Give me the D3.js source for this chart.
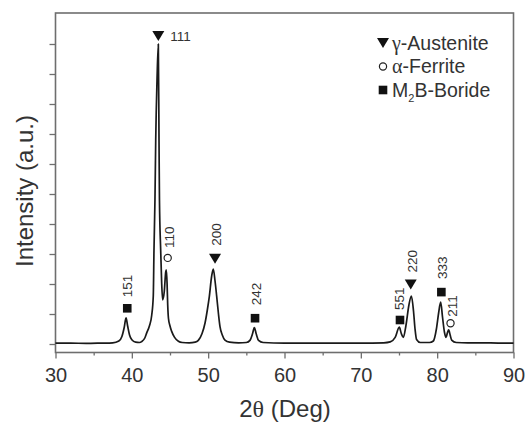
<!DOCTYPE html>
<html>
<head>
<meta charset="utf-8">
<script src="https://cdn.jsdelivr.net/npm/d3@7"></script>
<style>
  html, body { margin: 0; padding: 0; background: #fff; }
  svg { display: block; }
  text { font-family: "Liberation Sans", Arial, sans-serif; fill: #333; }
</style>
</head>
<body>
<svg id="chart" width="525" height="424"></svg>
<script>
// ---- data ----
const twoTheta = [30, 32, 34, 36, 37.5, 38.3, 38.7, 39.0, 39.24, 39.45, 39.7, 40.0, 40.5, 41.0, 41.29, 41.7, 41.95,
  42.3, 42.6, 42.81, 42.9, 43.03, 43.13, 43.3, 43.47, 43.56, 43.62, 43.78, 43.91, 44.04, 44.25, 44.44, 44.52, 44.62,
  44.7, 44.8, 45.0, 45.22, 45.6, 46.1, 46.6, 47.5, 48.3, 48.71, 49.2, 49.59, 49.9, 50.15, 50.45, 50.67, 50.9, 51.12,
  51.35, 51.55, 51.85, 52.2, 52.8, 54.0, 55.0, 55.5, 55.8, 56.05, 56.3, 56.6, 57.2, 60, 65, 70, 73.0, 73.85, 74.5,
  75.04, 75.3, 75.57, 75.9, 76.3, 76.62, 76.9, 77.1, 77.3, 77.8, 79.0, 79.5, 79.9, 80.2, 80.46, 80.7, 80.95, 81.16,
  81.35, 81.51, 81.7, 81.9, 82.5, 84, 86, 88, 90];
const intensity = [0.03, 0.03, 0.02, 0.03, 0.04, 0.1, 0.25, 0.55, 0.87, 0.6, 0.3, 0.14, 0.06, 0.05, 0.08, 0.2, 0.37,
  0.6, 0.95, 1.6, 3.1, 4.8, 6.8, 8.8, 10.0, 6.8, 4.8, 3.13, 2.03, 1.47, 1.75, 2.4, 2.47, 2.0,
  1.3, 0.85, 0.6, 0.42, 0.22, 0.09, 0.05, 0.04, 0.06, 0.12, 0.35, 0.7, 1.15, 1.58, 2.25, 2.5, 2.1, 1.58,
  1.0, 0.58, 0.3, 0.13, 0.06, 0.04, 0.05, 0.13, 0.33, 0.55, 0.33, 0.12, 0.05, 0.03, 0.03, 0.03, 0.04, 0.07, 0.22,
  0.56, 0.35, 0.22, 0.6, 1.3, 1.6, 1.1, 0.5, 0.15, 0.05, 0.05, 0.1, 0.5, 1.05, 1.4, 0.9, 0.4, 0.22,
  0.38, 0.47, 0.3, 0.13, 0.05, 0.04, 0.04, 0.03, 0.03];

const peakLabels = ["111", "151", "110", "200", "242", "551", "220", "333", "211"];
const peakPhases = ["austenite", "boride", "ferrite", "austenite", "boride", "boride", "austenite", "boride", "ferrite"];
const peakMarkerAngle = [43.47, 39.4, 44.7, 50.9, 56.14, 75.13, 76.54, 80.55, 81.75];
const peakMarkerIntensity = [10.27, 1.19, 2.87, 2.84, 0.86, 0.8, 1.98, 1.73, 0.69];

const xTicks = [30, 40, 50, 60, 70, 80, 90];
const xMinorTicks = [35, 45, 55, 65, 75, 85];
const yTicks = [0, 1, 2, 3, 4, 5, 6, 7, 8, 9, 10];

const legendPhases = ["austenite", "ferrite", "boride"];

// ---- layout ----
const svg = d3.select("#chart");
const L = 55.5, R = 513.5, T = 13, B = 352.5;
const x = d3.scaleLinear().domain([30, 90]).range([L, R]);
const y = d3.scaleLinear().domain([-0.283, 11.033]).range([B, T]);

svg.append("rect").attr("width", 525).attr("height", 424).attr("fill", "#fff");

// axes
const axisColor = "#6e6e6e";
const gx = svg.append("g").attr("transform", `translate(0,${B})`)
  .call(d3.axisBottom(x).tickValues(xTicks).tickSize(6).tickPadding(9).tickFormat(d3.format("d")));
const gxm = svg.append("g").attr("transform", `translate(0,${B})`)
  .call(d3.axisBottom(x).tickValues(xMinorTicks).tickSize(3).tickFormat(""));
const gy = svg.append("g").attr("transform", `translate(${L},0)`)
  .call(d3.axisLeft(y).tickValues(yTicks).tickSize(6).tickFormat(""));
[gx, gxm, gy].forEach(g => {
  g.select(".domain").remove();
  g.selectAll(".tick line").attr("stroke", axisColor).attr("stroke-width", 1.3);
});
gx.selectAll(".tick text").attr("font-size", 20).attr("fill", "#333")
  .attr("font-family", "Liberation Sans, Arial, sans-serif");

// frame
svg.append("rect").attr("x", L).attr("y", T).attr("width", R - L).attr("height", B - T)
  .attr("fill", "none").attr("stroke", axisColor).attr("stroke-width", 1.6);

// curve
const pts = twoTheta.map((t, i) => [t, intensity[i]]);
const line = d3.line().x(d => x(d[0])).y(d => y(d[1])).curve(d3.curveMonotoneX);
svg.append("path").datum(pts).attr("d", line)
  .attr("fill", "none").attr("stroke", "#1a1a1a").attr("stroke-width", 1.7).attr("stroke-linejoin", "round");

// marker drawing
function drawMarker(g, phase, cx, cy) {
  if (phase === "austenite") {
    g.append("path").attr("d", d3.line()([[cx - 6, cy - 5], [cx + 6, cy - 5], [cx, cy + 5]]) + "Z")
      .attr("fill", "#111");
  } else if (phase === "boride") {
    g.append("rect").attr("x", cx - 4.3).attr("y", cy - 4.3).attr("width", 8.6).attr("height", 8.6).attr("fill", "#111");
  } else {
    g.append("circle").attr("cx", cx).attr("cy", cy).attr("r", 3.6)
      .attr("fill", "#fff").attr("stroke", "#222").attr("stroke-width", 1.2);
  }
}

// peak annotations
const labelGap = [0, 11, 10, 13, 13, 10, 12, 13, 6.5];
const labelShift = [0, 0, 1, 1, 1, -1, 1, 1, 2];
const ann = svg.append("g");
peakLabels.forEach((lab, i) => {
  const cx = x(peakMarkerAngle[i]), cy = y(peakMarkerIntensity[i]);
  drawMarker(ann, peakPhases[i], cx, cy);
  if (i === 0) {
    ann.append("text").attr("x", cx + 12).attr("y", cy).attr("dy", "0.4em")
      .attr("font-size", 13.5).text(lab);
  } else {
    ann.append("text")
      .attr("transform", `translate(${cx + labelShift[i]},${cy - labelGap[i]}) rotate(-90)`)
      .attr("dy", "0.36em").attr("font-size", 13.5).text(lab);
  }
});

// legend
const legend = svg.append("g").attr("transform", "translate(383,43)");
const legendText = [
  [{ t: "γ", serif: true }, { t: "-Austenite" }],
  [{ t: "α", serif: true }, { t: "-Ferrite" }],
  [{ t: "M" }, { t: "2", sub: true }, { t: "B-Boride", up: true }]
];
legendPhases.forEach((p, i) => {
  const yy = i * 23.5;
  drawMarker(legend, p, 0, yy);
  const txt = legend.append("text").attr("x", 9).attr("y", yy + 6.5).attr("font-size", 19.5);
  legendText[i].forEach(part => {
    const ts = txt.append("tspan").text(part.t);
    if (part.serif) ts.attr("font-family", "Liberation Serif, Times New Roman, serif").attr("font-size", 20);
    if (part.sub) ts.attr("font-size", 11).attr("dy", 5);
    if (part.up) ts.attr("dy", -5);
  });
});

// axis titles
svg.append("text").attr("x", 285).attr("y", 417).attr("text-anchor", "middle").attr("font-size", 24)
  .call(t => {
    t.append("tspan").text("2");
    t.append("tspan").attr("font-family", "Liberation Serif, Times New Roman, serif").text("θ");
    t.append("tspan").text(" (Deg)");
  });
svg.append("text").attr("transform", "translate(33,191) rotate(-90)").attr("text-anchor", "middle")
  .attr("font-size", 24).text("Intensity (a.u.)");
</script>
</body>
</html>
